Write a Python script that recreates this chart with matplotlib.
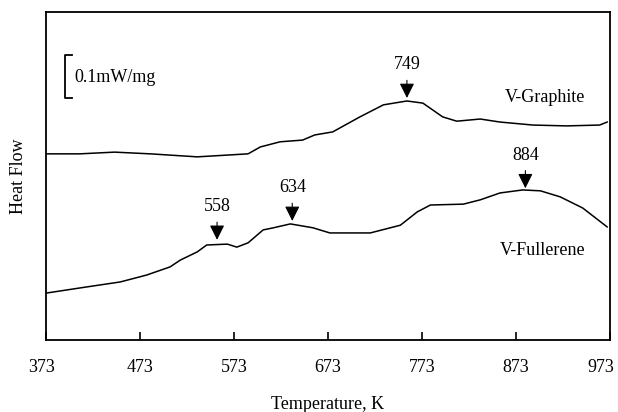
import numpy as np
import matplotlib.pyplot as plt
import matplotlib.transforms as mtransforms

plt.rcParams['font.family'] = ['Liberation Serif', 'DejaVu Serif']
plt.rcParams['font.size'] = 13

# DSC traces, heat flow in mW/mg (arbitrary offset)
t_graphite = [373, 409, 446, 484, 534, 588, 601, 622, 646, 659, 678, 707,
              732, 757, 774, 795, 810, 835, 856, 891, 927, 962, 970]
hf_graphite = [0.433, 0.433, 0.437, 0.433, 0.426, 0.433, 0.449, 0.461, 0.465,
               0.477, 0.484, 0.519, 0.547, 0.556, 0.551, 0.519, 0.509, 0.514,
               0.507, 0.500, 0.498, 0.500, 0.507]

t_fullerene = [373, 409, 452, 480, 505, 516, 534, 544, 566, 576, 588, 604,
               615, 633, 657, 675, 718, 750, 768, 782, 817, 835, 856, 880,
               899, 920, 944, 970]
hf_fullerene = [0.109, 0.121, 0.135, 0.151, 0.170, 0.186, 0.205, 0.221, 0.223,
                0.216, 0.226, 0.256, 0.261, 0.270, 0.261, 0.249, 0.249, 0.267,
                0.298, 0.314, 0.316, 0.326, 0.342, 0.349, 0.347, 0.333, 0.307,
                0.263]

# peak markers: label, temperature of arrow, arrow tip height
peak_labels = ['749', '884', '558', '634']
peak_t = [757, 883, 555, 635]
peak_tip = [0.563, 0.353, 0.233, 0.277]

xticks = [373, 473, 573, 673, 773, 873, 973]

fig = plt.figure(figsize=(6.18, 4.12), dpi=100)
ax = fig.add_axes([0.0744, 0.1748, 0.9126, 0.7961])

ax.plot(t_graphite, hf_graphite, color='black', lw=1.1)
ax.plot(t_fullerene, hf_fullerene, color='black', lw=1.1)

for lab, t, tip in zip(peak_labels, peak_t, peak_tip):
    ax.annotate(lab, xy=(t, tip), xytext=(t, tip + 0.077),
                ha='center', va='center',
                arrowprops=dict(arrowstyle='-|>,head_length=0.6,head_width=0.3',
                                mutation_scale=15, color='black', lw=0.8,
                                shrinkA=3, shrinkB=0))

ax.text(861, 0.565, 'V-Graphite', ha='left', va='center')
ax.text(856, 0.209, 'V-Fullerene', ha='left', va='center')

# 0.1 mW/mg scale bar
ax.plot([401, 393, 393, 401], [0.663, 0.663, 0.563, 0.563], color='black', lw=1.3)
ax.text(403, 0.610, '0.1mW/mg', ha='left', va='center')

ax.set_xlim(373, 973)
ax.set_ylim(0, 0.763)
ax.set_xticks(xticks)
ax.set_yticks([])
ax.tick_params(axis='x', direction='in', length=6, width=1.2, pad=14)
for s in ax.spines.values():
    s.set_linewidth(1.3)

# end labels sit slightly inside, as in the original
labels = ax.get_xticklabels()
labels[0].set_transform(labels[0].get_transform() +
                        mtransforms.ScaledTranslation(-0.04, 0, fig.dpi_scale_trans))
labels[-1].set_transform(labels[-1].get_transform() +
                         mtransforms.ScaledTranslation(-0.09, 0, fig.dpi_scale_trans))

ax.set_xlabel('Temperature, K', labelpad=14)
ax.set_ylabel('Heat Flow', labelpad=14)

fig.savefig('out.png', dpi=100)
